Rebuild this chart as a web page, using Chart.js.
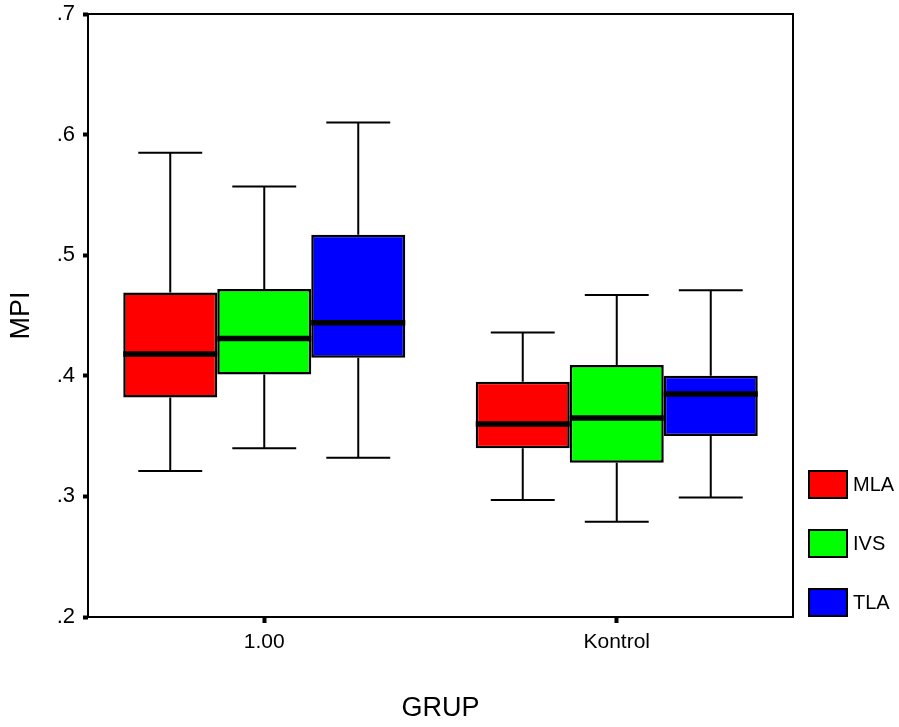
<!DOCTYPE html>
<html>
<head>
<meta charset="utf-8">
<script src="https://cdn.jsdelivr.net/npm/chart.js@4"></script>
<style>
  html, body { margin: 0; padding: 0; background: #fff; }
  #wrap { width: 899px; height: 727px; }
</style>
</head>
<body>
<div id="wrap"><canvas id="chart" width="899" height="727"></canvas></div>
<script>
// --- data ---
const categories = ['1.00', 'Kontrol'];
const seriesNames = ['MLA', 'IVS', 'TLA'];
const seriesColors = ['#ff0000', '#00ff00', '#0000ff'];

const mlaMin = [0.321, 0.297];
const mlaQ1  = [0.382, 0.340];
const mlaMed = [0.418, 0.360];
const mlaQ3  = [0.469, 0.395];
const mlaMax = [0.585, 0.436];

const ivsMin = [0.340, 0.279];
const ivsQ1  = [0.401, 0.328];
const ivsMed = [0.431, 0.365];
const ivsQ3  = [0.472, 0.409];
const ivsMax = [0.557, 0.467];

const tlaMin = [0.332, 0.299];
const tlaQ1  = [0.415, 0.350];
const tlaMed = [0.444, 0.385];
const tlaQ3  = [0.517, 0.400];
const tlaMax = [0.610, 0.471];

const yTicks = [0.2, 0.3, 0.4, 0.5, 0.6, 0.7];

const stats = [
    { min: mlaMin, q1: mlaQ1, med: mlaMed, q3: mlaQ3, max: mlaMax },
    { min: ivsMin, q1: ivsQ1, med: ivsMed, q3: ivsQ3, max: ivsMax },
    { min: tlaMin, q1: tlaQ1, med: tlaMed, q3: tlaQ3, max: tlaMax }
];

const FONT = "'Liberation Sans', Arial, Helvetica, sans-serif";

// whiskers, caps and medians on top of the floating bars
const boxExtras = {
    id: 'boxExtras',
    afterDatasetsDraw(chart) {
        const ctx = chart.ctx;
        const y = chart.scales.y;
        ctx.save();
        ctx.strokeStyle = '#000';
        stats.forEach((s, i) => {
            const meta = chart.getDatasetMeta(i);
            meta.data.forEach((bar, j) => {
                const x = bar.x;
                const w = bar.width;
                const cap = w * 0.34;
                ctx.lineWidth = 2;
                ctx.beginPath();
                ctx.moveTo(x, y.getPixelForValue(s.q3[j]));
                ctx.lineTo(x, y.getPixelForValue(s.max[j]));
                ctx.moveTo(x, y.getPixelForValue(s.q1[j]));
                ctx.lineTo(x, y.getPixelForValue(s.min[j]));
                ctx.moveTo(x - cap, y.getPixelForValue(s.max[j]));
                ctx.lineTo(x + cap, y.getPixelForValue(s.max[j]));
                ctx.moveTo(x - cap, y.getPixelForValue(s.min[j]));
                ctx.lineTo(x + cap, y.getPixelForValue(s.min[j]));
                ctx.stroke();
                ctx.lineWidth = 5.5;
                ctx.beginPath();
                ctx.moveTo(x - w / 2, y.getPixelForValue(s.med[j]));
                ctx.lineTo(x + w / 2, y.getPixelForValue(s.med[j]));
                ctx.stroke();
            });
        });
        ctx.restore();
    }
};

// frame around the plot and legend at the right
const frameAndLegend = {
    id: 'frameAndLegend',
    afterDraw(chart) {
        const ctx = chart.ctx;
        const a = chart.chartArea;
        ctx.save();
        ctx.strokeStyle = '#000';
        ctx.lineWidth = 2;
        ctx.strokeRect(a.left, a.top, a.right - a.left, a.bottom - a.top);

        const bx = a.right + 16;
        const tops = [471, 530, 589];
        ctx.font = '20px ' + FONT;
        ctx.textBaseline = 'middle';
        seriesNames.forEach((name, i) => {
            ctx.fillStyle = seriesColors[i];
            ctx.fillRect(bx, tops[i], 38, 27);
            ctx.lineWidth = 2;
            ctx.strokeRect(bx, tops[i], 38, 27);
            ctx.fillStyle = '#000';
            ctx.fillText(name, bx + 44, tops[i] + 14);
        });
        ctx.restore();
    }
};

const datasets = seriesNames.map((name, i) => ({
    label: name,
    data: categories.map((c, j) => [stats[i].q1[j], stats[i].q3[j]]),
    backgroundColor: seriesColors[i],
    borderColor: '#000',
    borderWidth: 2.5,
    borderSkipped: false,
    categoryPercentage: 0.8,
    barPercentage: 1.0
}));

new Chart(document.getElementById('chart'), {
    type: 'bar',
    data: { labels: categories, datasets },
    options: {
        responsive: false,
        animation: false,
        layout: { padding: { top: 14, right: 106, left: 0, bottom: 0 } },
        plugins: {
            legend: { display: false },
            tooltip: { enabled: false }
        },
        scales: {
            x: {
                afterFit: (s) => { s.height = 110; },
                grid: {
                    offset: false,
                    drawOnChartArea: false,
                    drawTicks: true,
                    tickLength: 6,
                    tickWidth: 4,
                    tickColor: '#000'
                },
                border: { display: false },
                ticks: { color: '#000', font: { family: FONT, size: 21 }, padding: 7 },
                title: {
                    display: true,
                    text: 'GRUP',
                    color: '#000',
                    font: { family: FONT, size: 27 },
                    padding: { top: 0, bottom: 2 }
                }
            },
            y: {
                min: 0.2,
                max: 0.7,
                afterFit: (s) => { s.width = 88; s.paddingTop = 0; s.paddingBottom = 0; },
                afterBuildTicks: (s) => { s.ticks = yTicks.map(v => ({ value: v })); },
                grid: {
                    drawOnChartArea: false,
                    drawTicks: true,
                    tickLength: 5,
                    tickWidth: 4,
                    tickColor: '#000'
                },
                border: { display: false },
                ticks: {
                    color: '#000',
                    font: { family: FONT, size: 22 },
                    padding: 8,
                    callback: (v) => Number(v).toFixed(1).replace(/^0/, '')
                },
                title: {
                    display: true,
                    text: 'MPI',
                    color: '#000',
                    font: { family: FONT, size: 27 },
                    padding: { top: 5, bottom: 0 }
                }
            }
        }
    },
    plugins: [boxExtras, frameAndLegend]
});
</script>
</body>
</html>
